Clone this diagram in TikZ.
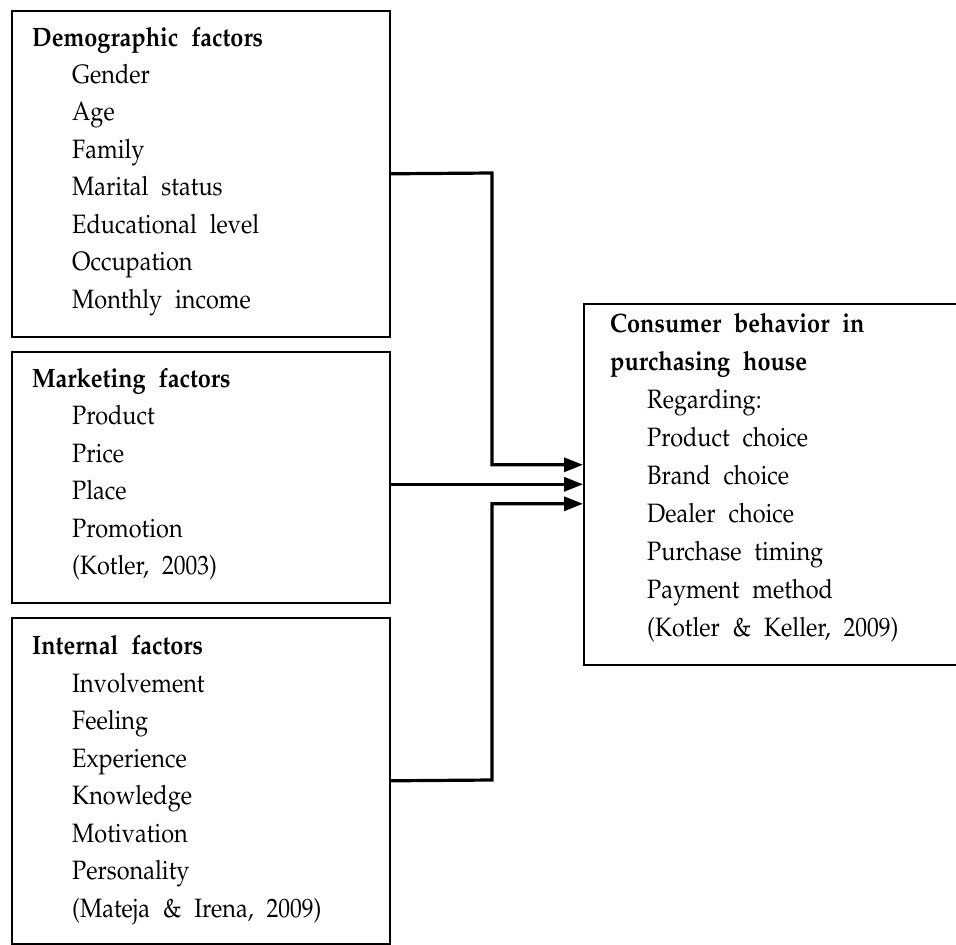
\documentclass[tikz,border=0pt]{standalone}
\usepackage[T1]{fontenc}
\usepackage{graphicx}
\renewcommand{\rmdefault}{ppl}
\usetikzlibrary{arrows.meta}
\newcommand{\wsp}{\spaceskip=0.55em plus 0.1em\relax}
\newcommand{\tline}[1]{\scalebox{1}[1.13]{\wsp #1}}
\tikzset{
  box/.style={draw=black, line width=1.6pt, rectangle, inner sep=0pt, anchor=north west},
  txt/.style={inner sep=0pt, anchor=base west, font=\fontsize{23.5}{36}\selectfont},
  conn/.style={line width=3.2pt, -{Triangle[length=19pt,width=14pt]}},
}
\begin{document}
\begin{tikzpicture}[x=1pt,y=-1pt]
\useasboundingbox (0,0) rectangle (956,945);
% boxes
\node[box, minimum width=378pt, minimum height=326pt] (b1) at (11,10) {};
\node[box, minimum width=378pt, minimum height=251pt] (b2) at (11,351) {};
\node[box, minimum width=378pt, minimum height=326pt] (b3) at (11,617) {};
\node[box, minimum width=380pt, minimum height=361pt] (b4) at (583,303) {};
% texts
\node[txt] (d1) at (32,46) {\tline{\textbf{Demographic factors}}};
\node[txt] (d2) at (72,83) {\tline{Gender}};
\node[txt] (d3) at (72,120.5) {\tline{Age}};
\node[txt] (d4) at (72,158) {\tline{Family}};
\node[txt] (d5) at (72,195.5) {\tline{Marital status}};
\node[txt] (d6) at (72,233) {\tline{Educational level}};
\node[txt] (d7) at (72,270.5) {\tline{Occupation}};
\node[txt] (d8) at (72,308) {\tline{Monthly income}};
\node[txt] (m1) at (32,387) {\tline{\textbf{Marketing factors}}};
\node[txt] (m2) at (72,424.5) {\tline{Product}};
\node[txt] (m3) at (72,462) {\tline{Price}};
\node[txt] (m4) at (72,499.5) {\tline{Place}};
\node[txt] (m5) at (72,537) {\tline{Promotion}};
\node[txt] (m6) at (72,574.5) {\tline{(Kotler, 2003)}};
\node[txt] (i1) at (32,654.5) {\tline{\textbf{Internal factors}}};
\node[txt] (i2) at (72,692) {\tline{Involvement}};
\node[txt] (i3) at (72,729.5) {\tline{Feeling}};
\node[txt] (i4) at (72,767) {\tline{Experience}};
\node[txt] (i5) at (72,804.5) {\tline{Knowledge}};
\node[txt] (i6) at (72,842) {\tline{Motivation}};
\node[txt] (i7) at (72,879.5) {\tline{Personality}};
\node[txt] (i8) at (72,917) {\tline{(Mateja \& Irena, 2009)}};
\node[txt] (c1) at (610,332) {\tline{\textbf{Consumer behavior in}}};
\node[txt] (c2) at (610,370) {\tline{\textbf{purchasing house}}};
\node[txt] (c3) at (647,408) {\tline{Regarding:}};
\node[txt] (c4) at (647,446) {\tline{Product choice}};
\node[txt] (c5) at (647,484) {\tline{Brand choice}};
\node[txt] (c6) at (647,522) {\tline{Dealer choice}};
\node[txt] (c7) at (647,560) {\tline{Purchase timing}};
\node[txt] (c8) at (647,598) {\tline{Payment method}};
\node[txt] (c9) at (647,636) {\tline{(Kotler \& Keller, 2009)}};
% connectors
\coordinate (j1) at (492,173);
\coordinate (j3) at (492,780);
\draw[conn] (b1.east) -- (j1) |- ([yshift=19.5pt]b4.west);
\draw[conn] (b2.east |- b4.west) -- (b4.west);
\draw[conn] (b3.east) -- (j3) |- ([yshift=-19.5pt]b4.west);
\end{tikzpicture}
\end{document}
